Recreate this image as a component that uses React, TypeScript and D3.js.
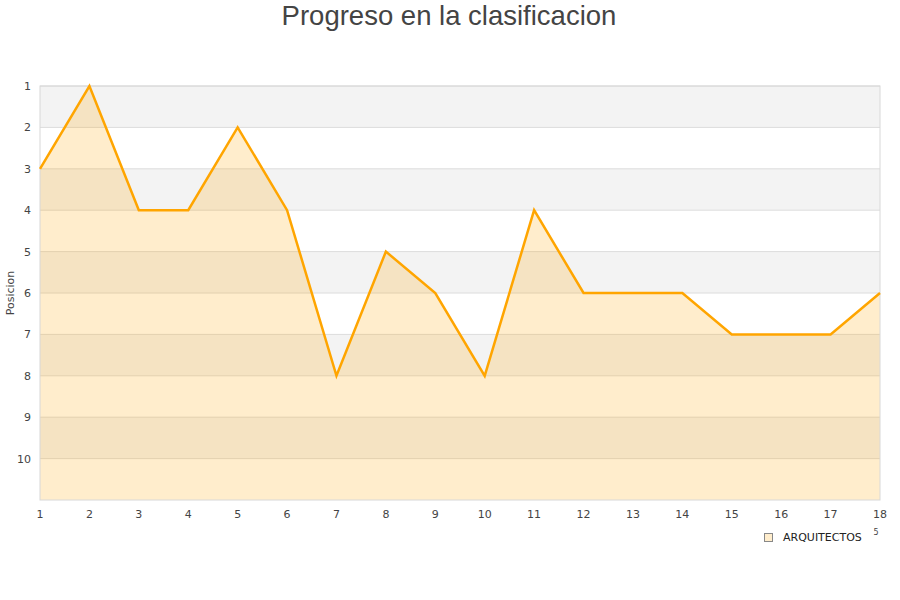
import React from 'react';
import * as d3 from 'd3';

const jornadas = [1, 2, 3, 4, 5, 6, 7, 8, 9, 10, 11, 12, 13, 14, 15, 16, 17, 18];
const posiciones = [3, 1, 4, 4, 2, 4, 8, 5, 6, 8, 4, 6, 6, 6, 7, 7, 7, 6];
const yTicks = [1, 2, 3, 4, 5, 6, 7, 8, 9, 10];
const seriesName = 'ARQUITECTOS';

const W = 900;
const H = 600;
const m = { left: 40, right: 880, top: 86, bottom: 500 };

const App: React.FC = () => {
  const x = d3.scaleLinear().domain([1, 18]).range([m.left, m.right]);
  const y = d3.scaleLinear().domain([1, 11]).range([m.top, m.bottom]);

  const pts = jornadas.map((j, i) => [j, posiciones[i]] as [number, number]);
  const line = d3.line<[number, number]>().x(d => x(d[0])).y(d => y(d[1]));
  const area = d3.area<[number, number]>().x(d => x(d[0])).y0(y(11)).y1(d => y(d[1]));

  // alternating bands, grey on odd rows
  const bands = d3.range(1, 11);

  return (
    <svg width={W} height={H} style={{ position: 'absolute', left: 0, top: 0 }}>
      <rect width={W} height={H} fill="#fff" />
      <text x={449} y={25} textAnchor="middle" fontFamily="Liberation Sans, Arial" fontSize={27.5} fill="#444">
        Progreso en la clasificacion
      </text>
      {bands.map(b => (
        <rect key={b} x={m.left} y={y(b)} width={m.right - m.left} height={y(b + 1) - y(b)}
          fill={b % 2 === 1 ? '#f3f3f3' : '#ffffff'} />
      ))}
      {yTicks.map(t => (
        <line key={t} x1={m.left} x2={m.right} y1={y(t)} y2={y(t)} stroke="#dcdcdc" strokeWidth={1} />
      ))}
      <path d={area(pts) || ''} fill="rgba(255,165,0,0.2)" />
      <rect x={m.left} y={m.top} width={m.right - m.left} height={m.bottom - m.top} fill="none" stroke="#d8d8d8" strokeWidth={1} />
      <path d={line(pts) || ''} fill="none" stroke="#ffa500" strokeWidth={2.5} strokeLinejoin="miter" />
      {yTicks.map(t => (
        <text key={t} x={31} y={y(t) + 4} textAnchor="end" fontFamily="DejaVu Sans" fontSize={11} fill="#444">{t}</text>
      ))}
      {jornadas.map(j => (
        <text key={j} x={x(j)} y={518} textAnchor="middle" fontFamily="DejaVu Sans" fontSize={11} fill="#444">{j}</text>
      ))}
      <text transform={`translate(14,${y(6)}) rotate(-90)`} textAnchor="middle" fontFamily="DejaVu Sans" fontSize={11} fill="#444">
        Posicion
      </text>
      <rect x={764.5} y={533.5} width={8} height={8} fill="#ffedcc" stroke="#888" strokeWidth={1} />
      <text x={783} y={541} fontFamily="DejaVu Sans" fontSize={11} fill="#222">{seriesName}</text>
      <text x={876} y={535} textAnchor="middle" fontFamily="DejaVu Sans" fontSize={8} fill="#444">5</text>
    </svg>
  );
};

export default App;
